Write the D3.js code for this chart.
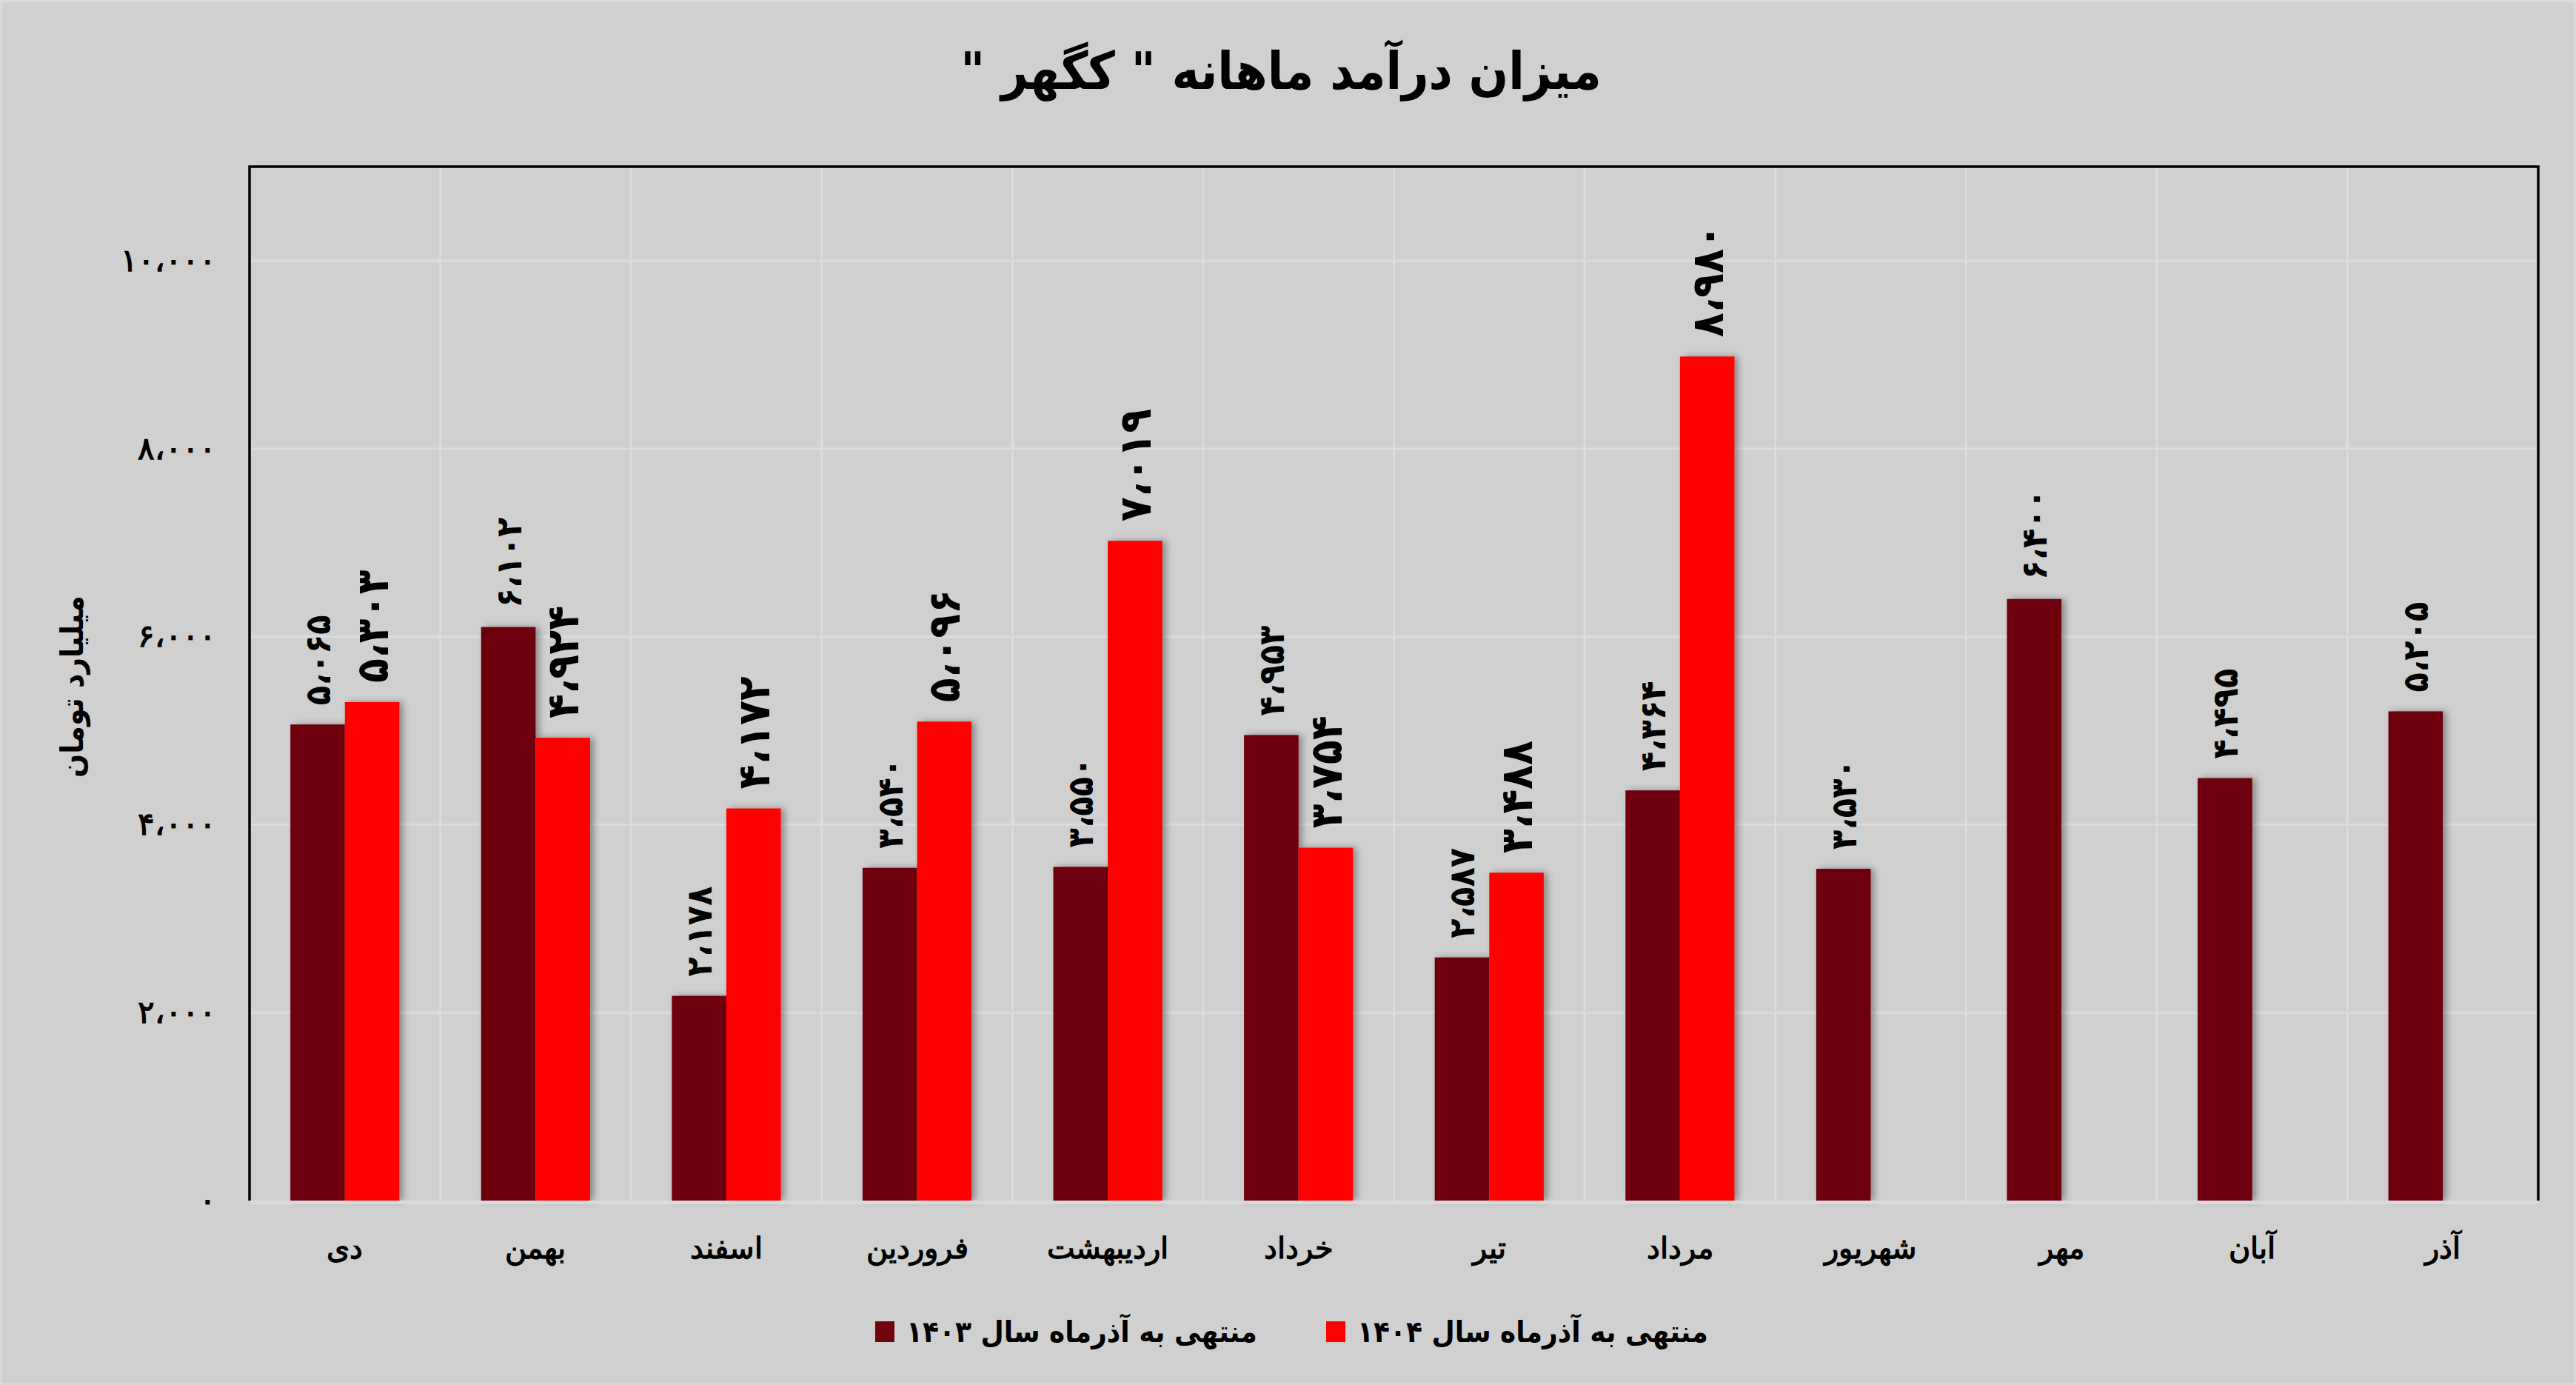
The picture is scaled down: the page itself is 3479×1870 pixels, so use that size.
<!DOCTYPE html>
<html>
<head>
<meta charset="utf-8">
<script src="https://cdn.jsdelivr.net/npm/d3@7"></script>
<style>
  body { margin: 0; background: #d0d0d0; }
  svg { display: block; font-family: "DejaVu Sans Condensed", "DejaVu Sans", sans-serif; }
</style>
</head>
<body>
<svg id="chart" width="3479" height="1870"></svg>
<script>
const months = ["دی", "بهمن", "اسفند", "فروردین", "اردیبهشت", "خرداد", "تیر", "مرداد", "شهریور", "مهر", "آبان", "آذر"];
const values1403 = [5065, 6102, 2178, 3540, 3550, 4953, 2587, 4364, 3530, 6400, 4495, 5205];
const values1404 = [5303, 4924, 4172, 5096, 7019, 3754, 3488, 8980, null, null, null, null];
const seriesNames = ["منتهی به آذرماه سال ۱۴۰۳", "منتهی به آذرماه سال ۱۴۰۴"];
const yTicks = [0, 2000, 4000, 6000, 8000, 10000];

const svg = d3.select("svg#chart");
const width = +svg.attr("width");
const height = +svg.attr("height");
const margin = { top: 225, right: 51, bottom: 249, left: 337 };
const chartWidth = width - margin.left - margin.right;
const chartHeight = height - margin.top - margin.bottom;
const colors = ["#6e050b", "#ff0000"];

// persian digits + arabic comma
const fa = (s) => String(s).replace(/[0-9]/g, (d) => "۰۱۲۳۴۵۶۷۸۹"[d]).replace(/,/g, "،");
const fmt = (v) => fa(d3.format(",")(v));

svg.append("rect")
	.attr("x", 1.5).attr("y", 1.5)
	.attr("width", width - 3).attr("height", height - 3)
	.attr("fill", "#d0d0d0")
	.attr("stroke", "#dadada")
	.attr("stroke-width", 3);

const defs = svg.append("defs");
const shadow = defs.append("filter")
	.attr("id", "shadow")
	.attr("x", "-30%").attr("y", "-5%")
	.attr("width", "160%").attr("height", "110%");
shadow.append("feDropShadow")
	.attr("dx", 5).attr("dy", 0)
	.attr("stdDeviation", 5)
	.attr("flood-color", "#000")
	.attr("flood-opacity", 0.35);

const chartArea = svg.append("g")
	.attr("transform", `translate(${margin.left},${margin.top})`);

const x0 = d3.scaleBand(months, [0, chartWidth]).paddingInner(0).paddingOuter(0);
const x1 = d3.scaleBand([0, 1], [0, x0.bandwidth()]).paddingInner(0).paddingOuter(0.75);
const y = d3.scaleLinear([0, 11000], [chartHeight, 0]);

// grid
chartArea.append("g")
	.selectAll("line")
	.data(yTicks.slice(1))
	.join("line")
	.attr("x1", 0).attr("x2", chartWidth)
	.attr("y1", (d) => y(d)).attr("y2", (d) => y(d))
	.attr("stroke", "#dcdcdc")
	.attr("stroke-width", 3);

chartArea.append("g")
	.selectAll("line")
	.data(months.slice(1))
	.join("line")
	.attr("x1", (d) => x0(d)).attr("x2", (d) => x0(d))
	.attr("y1", 0).attr("y2", chartHeight)
	.attr("stroke", "#dcdcdc")
	.attr("stroke-width", 3);

// y axis
const yAxis = d3.axisLeft(y).tickValues(yTicks).tickSize(0).tickPadding(45).tickFormat(fmt);
const yG = chartArea.append("g").call(yAxis);
yG.select(".domain").remove();
yG.selectAll("text")
	.attr("font-size", 42)
	.attr("font-weight", "bold")
	.attr("letter-spacing", 12)
	.attr("fill", "#000");

// bars
const rows = months.map((m, i) => ({ month: m, vals: [values1403[i], values1404[i]] }));
const groups = chartArea.append("g")
	.selectAll("g")
	.data(rows)
	.join("g")
	.attr("transform", (d) => `translate(${x0(d.month)},0)`);

groups.selectAll("rect")
	.data((d) => d.vals.map((v, k) => ({ k, v })).filter((e) => e.v != null))
	.join("rect")
	.attr("x", (d) => x1(d.k))
	.attr("y", (d) => y(d.v))
	.attr("width", x1.bandwidth())
	.attr("height", (d) => chartHeight - y(d.v))
	.attr("fill", (d) => colors[d.k])
	.attr("filter", "url(#shadow)");

groups.selectAll("text")
	.data((d) => d.vals.map((v, k) => ({ k, v })).filter((e) => e.v != null))
	.join("text")
	.attr("transform", (d) => `translate(${x1(d.k) + x1.bandwidth() / 2},${y(d.v) - 26}) rotate(-90)`)
	.attr("text-anchor", "start")
	.attr("dominant-baseline", "central")
	.attr("font-size", (d) => (d.k === 0 ? 48 : 60))
	.attr("font-weight", "bold")
	.attr("letter-spacing", (d) => (d.k === 0 ? 8 : 7))
	.attr("fill", "#000")
	.text((d) => fmt(d.v));

// frame
chartArea.append("line")
	.attr("x1", 0).attr("x2", chartWidth)
	.attr("y1", chartHeight + 2.5).attr("y2", chartHeight + 2.5)
	.attr("stroke", "#dadada").attr("stroke-width", 5);
chartArea.append("path")
	.attr("d", `M0,${chartHeight} V0 H${chartWidth} V${chartHeight}`)
	.attr("fill", "none")
	.attr("stroke", "#000")
	.attr("stroke-width", 3.5);

// x labels
const xAxis = d3.axisBottom(x0).tickSize(0).tickPadding(50);
const xG = chartArea.append("g").attr("transform", `translate(0,${chartHeight})`).call(xAxis);
xG.select(".domain").remove();
xG.selectAll("text")
	.attr("font-size", 40)
	.attr("font-weight", "bold")
	.attr("fill", "#000")
	.attr("direction", "rtl");

// titles
svg.append("text")
	.attr("x", 1730).attr("y", 120)
	.attr("text-anchor", "middle")
	.attr("direction", "rtl")
	.attr("font-size", 70)
	.attr("font-weight", "bold")
	.text("میزان درآمد ماهانه \" کگهر \"");

svg.append("text")
	.attr("transform", `translate(112,927) rotate(-90)`)
	.attr("text-anchor", "middle")
	.attr("direction", "rtl")
	.attr("font-size", 42)
	.attr("font-weight", "bold")
	.text("میلیارد تومان");

// legend
const legendX = [1182, 1791];
const legend = svg.append("g")
	.selectAll("g")
	.data(seriesNames)
	.join("g")
	.attr("transform", (d, i) => `translate(${legendX[i]},1784)`);
legend.append("rect")
	.attr("width", 26).attr("height", 28)
	.attr("fill", (d, i) => colors[i]);
legend.append("text")
	.attr("x", 42).attr("y", 14)
	.attr("dominant-baseline", "central")
	.attr("font-size", 40)
	.attr("font-weight", "bold")
	.text((d) => d);
</script>
</body>
</html>
